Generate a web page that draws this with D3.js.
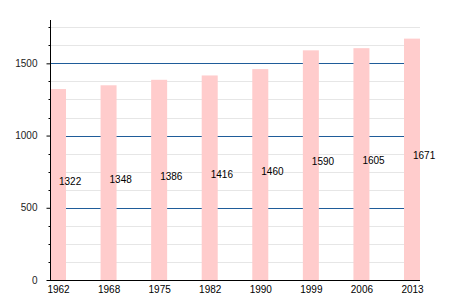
<!DOCTYPE html>
<html><head><meta charset="utf-8">
<script src="https://cdn.jsdelivr.net/npm/d3@7"></script>
<style>body{margin:0;background:#fff}svg{display:block}text{font-family:"Liberation Sans",Arial,sans-serif}</style>
</head><body><svg id="c" width="450" height="300"></svg>
<script>
const years = ["1962","1968","1975","1982","1990","1999","2006","2013"];
const population = [1322,1348,1386,1416,1460,1590,1605,1671];
const majorTicks = [0,500,1000,1500];
const minorTicks = [125,250,375,625,750,875,1125,1250,1375,1625,1750];

const svg = d3.select("#c");
const x = d3.scalePoint().domain(years).range([58, 412]);
const y = d3.scaleLinear().domain([0, 1800]).range([280, 20]);
const barW = 16;

const defs = svg.append("defs");
defs.append("filter").attr("id","blur").attr("x","-20%").attr("width","140%")
  .append("feGaussianBlur").attr("stdDeviation","0.7");

// minor gridlines
svg.append("g").selectAll("line").data(minorTicks).join("line")
  .attr("x1",50).attr("x2",420).attr("y1",d=>Math.round(y(d))+0.5).attr("y2",d=>Math.round(y(d))+0.5)
  .attr("stroke","#e6e6e6").attr("stroke-width",1);
// major gridlines
svg.append("g").selectAll("line").data(majorTicks.filter(d=>d>0)).join("line")
  .attr("x1",50).attr("x2",420).attr("y1",d=>Math.round(y(d))+0.5).attr("y2",d=>Math.round(y(d))+0.5)
  .attr("stroke","#1f5c99").attr("stroke-width",1);

// bars
svg.append("g").attr("filter","url(#blur)").selectAll("rect").data(population).join("rect")
  .attr("x",(d,i)=>x(years[i])-barW/2).attr("width",barW)
  .attr("y",d=>y(d)).attr("height",d=>y(0)-y(d))
  .attr("fill","#ffcccc");

// value labels
svg.append("g").selectAll("text").data(population).join("text")
  .attr("x",(d,i)=>x(years[i])+1).attr("y",d=>y(d/2))
  .attr("font-size",10).attr("fill","#000").text(d=>d);

// y axis
const yAxis = d3.axisLeft(y).tickValues(majorTicks).tickSize(4).tickFormat(d3.format("d"));
const gy = svg.append("g").attr("transform","translate(50.5,0)").call(yAxis);
gy.select(".domain").attr("d","M0,20V280").attr("stroke","#000");
gy.selectAll(".tick text").attr("font-size",10).attr("x",-13).attr("fill","#222").style("font-family","Liberation Sans, Arial, sans-serif");
gy.selectAll(".tick line").attr("stroke","#000");
gy.append("g").selectAll("line").data(minorTicks).join("line")
  .attr("x1",-2).attr("x2",0).attr("y1",d=>Math.round(y(d))+0.5).attr("y2",d=>Math.round(y(d))+0.5).attr("stroke","#000");

// x axis
const xAxis = d3.axisBottom(x).tickSize(0).tickPadding(5);
const gx = svg.append("g").attr("transform","translate(0,280.5)").call(xAxis);
gx.select(".domain").attr("d","M50,0H420").attr("stroke","#000");
gx.selectAll(".tick text").attr("font-size",10).attr("fill","#000").style("font-family","Liberation Sans, Arial, sans-serif");
</script></body></html>
